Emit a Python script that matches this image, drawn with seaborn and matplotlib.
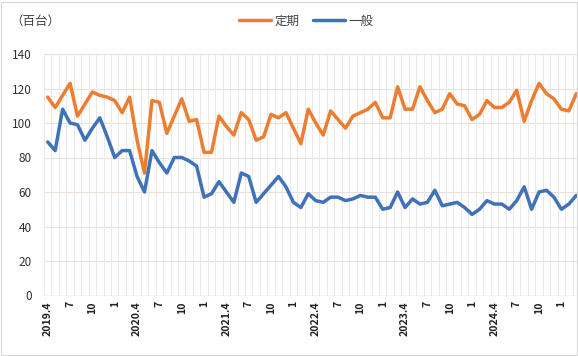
import matplotlib
matplotlib.use("Agg")
import matplotlib.pyplot as plt
import seaborn as sns
import pandas as pd
from matplotlib.patches import Rectangle

# 2019.4 .. 2025.3 monthly (百台)
teiki = [115, 109, 116, 123, 104, 111, 118, 116, 115, 113, 106, 115,
         90, 71, 113, 112, 94, 104, 114, 101, 102, 83, 83, 104,
         98, 93, 106, 102, 90, 92, 105, 103, 106, 97, 88, 108,
         100, 93, 107, 102, 97, 104, 106, 108, 112, 103, 103, 121,
         108, 108, 121, 113, 106, 108, 117, 111, 110, 102, 105, 113,
         109, 109, 112, 119, 101, 113, 123, 117, 114, 108, 107, 117]
ippan = [89, 84, 108, 100, 99, 90, 97, 103, 92, 80, 84, 84,
         69, 60, 84, 77, 71, 80, 80, 78, 75, 57, 59, 66,
         60, 54, 71, 69, 54, 59, 64, 69, 63, 54, 51, 59,
         55, 54, 57, 57, 55, 56, 58, 57, 57, 50, 51, 60,
         51, 56, 53, 54, 61, 52, 53, 54, 51, 47, 50, 55,
         53, 53, 50, 55, 63, 50, 60, 61, 57, 50, 53, 58]
series_names = ["定期", "一般"]
tick_labels = ["2019.4", "7", "10", "1", "2020.4", "7", "10", "1",
               "2021.4", "7", "10", "1", "2022.4", "7", "10", "1",
               "2023.4", "7", "10", "1", "2024.4", "7", "10", "1"]
y_ticks = [0, 20, 40, 60, 80, 100, 120, 140]
unit_label = "（百台）"

sns.set_theme(style="white")
plt.rcParams['font.family'] = ['Noto Sans CJK JP', 'DejaVu Sans']

orange = "#ED7D31"
blue = "#3F72B8"

n = len(teiki)
df = pd.DataFrame({
    "month": list(range(n)) * 2,
    "value": teiki + ippan,
    "series": [series_names[0]] * n + [series_names[1]] * n,
})

fig = plt.figure(figsize=(5.78, 3.56), dpi=100)
ax = fig.add_axes([44 / 578, 1 - 295.5 / 356, (580 - 44) / 578, (295.5 - 54) / 356])

sns.lineplot(data=df, x="month", y="value", hue="series",
             palette=[orange, blue], linewidth=2.5, ax=ax, legend=False)

ax.set_xlim(-0.5, n - 0.5)
ax.set_ylim(0, 140)
ax.set_yticks(y_ticks)
ax.set_yticklabels([str(v) for v in y_ticks], fontsize=8.5, color="#333333")
ax.set_xticks(range(0, 3 * len(tick_labels), 3))
ax.set_xticklabels(tick_labels, rotation=90, fontsize=7.6, fontweight="bold",
                   color="#222222")
ax.tick_params(axis="x", length=0, pad=4)
ax.tick_params(axis="y", length=0, pad=9)
ax.set_xlabel("")
ax.set_ylabel("")

# grid
for v in y_ticks[1:]:
    ax.axhline(v, color="#EADFDA", lw=0.8, zorder=0)
for i in range(n):
    ax.axvline(i - 0.5, color="#ECE8E8", lw=0.7, zorder=0)
ax.axhline(0, color="#D6CCC8", lw=1.0, zorder=0)
for s in ax.spines.values():
    s.set_visible(False)

fig.text(10 / 578, 1 - 21 / 356, unit_label, fontsize=9, color="#444444",
         va="center", ha="left")

handles = ax.get_lines()[:2]
fig.legend(handles, series_names, loc="center", bbox_to_anchor=(0.53, 1 - 21 / 356),
           ncol=2, frameon=False, fontsize=9, handlelength=2.6, columnspacing=1.0,
           handletextpad=0.3, labelcolor="#444444")

fig.patches.append(Rectangle((0.002, 0.003), 0.996, 0.99, transform=fig.transFigure,
                             fill=False, edgecolor="#D8D8D8", lw=0.8))

fig.savefig("out.png", dpi=100)
